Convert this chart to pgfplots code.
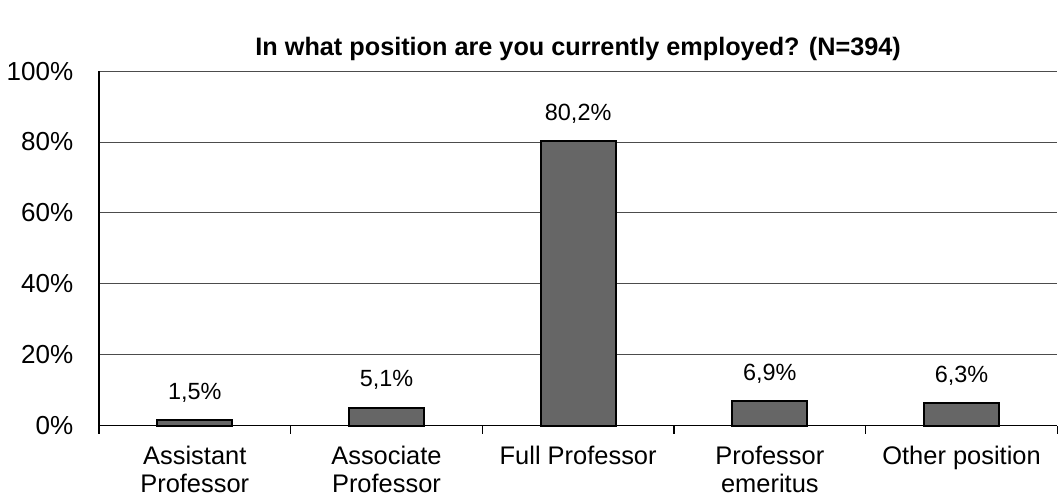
\documentclass[border=0pt]{standalone}
\usepackage{fontspec}
\setmainfont{Liberation Sans}
\usepackage{pgfplots}
\pgfplotsset{compat=1.18}

\begin{document}
\begin{tikzpicture}
\begin{axis}[
  scale only axis,
  width=478.5pt, height=177pt,
  ymin=0, ymax=100,
  xmin=-0.5, xmax=4.5,
  axis x line*=bottom,
  axis y line*=left,
  axis line style={line width=0.6pt,-},
  ytick={0,20,40,60,80,100},
  yticklabel={\pgfmathprintnumber{\tick}\%},
  /pgf/number format/assume math mode=true,
  ymajorgrids,
  grid style={black!70,line width=0.5pt},
  major y tick style={draw=none},
  xtick={0,1,2,3,4},
  xticklabels={{Assistant\\Professor},{Associate\\Professor},{Full Professor},{Professor\\emeritus},{Other position}},
  x tick label style={align=center,font=\fontsize{12.7}{14}\selectfont,yshift=-2.5pt},
  y tick label style={font=\fontsize{13}{14}\selectfont},
  yticklabel style={xshift=-5pt},
  minor xtick={-0.5,0.5,1.5,2.5,3.5,4.5},
  major x tick style={draw=none},
  minor x tick style={black,line width=0.6pt},
  minor tick length=4pt,
  tick align=outside,
  title={\textbf{In what position are you currently employed? (N=394)}},
  title style={font=\fontsize{12.6}{14}\selectfont,at={(0.5,1)},anchor=center,yshift=5pt},
  ybar,
  bar width=37.5pt,
  nodes near coords={\pgfmathprintnumber[fixed,fixed zerofill,precision=1,use comma]{\pgfplotspointmeta}\%},
  nodes near coords style={font=\fontsize{11.7}{13}\selectfont,yshift=5pt},
  clip=false,
]
\addplot[draw=black,fill=black!60,line width=1pt] coordinates {
  (0,1.5) (1,5.1) (2,80.2) (3,6.9) (4,6.3)
};
\path (rel axis cs:0.5,1) ++(0,35.5pt) coordinate (topedge);
\end{axis}
\useasboundingbox (topedge);
\end{tikzpicture}
\end{document}
